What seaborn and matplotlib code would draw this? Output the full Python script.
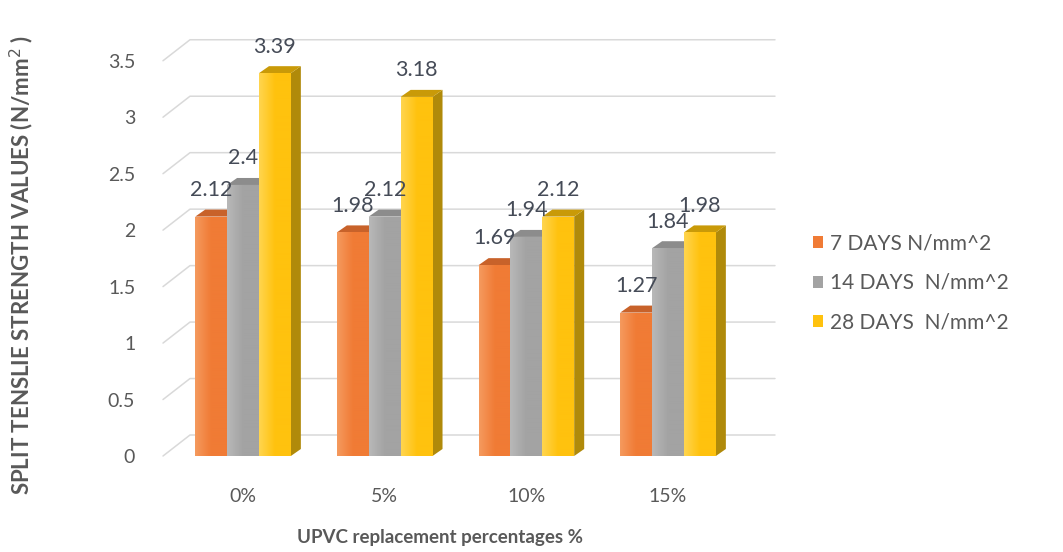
import numpy as np
import pandas as pd
import seaborn as sns
import matplotlib.pyplot as plt
from matplotlib.patches import Polygon, Patch
from matplotlib.colors import LinearSegmentedColormap
from matplotlib.transforms import blended_transform_factory

# ---------------- data ----------------
categories = ["0%", "5%", "10%", "15%"]
series_names = ["7 DAYS N/mm^2", "14 DAYS  N/mm^2", "28 DAYS  N/mm^2"]
days7 = [2.12, 1.98, 1.69, 1.27]
days14 = [2.4, 2.12, 1.94, 1.84]
days28 = [3.39, 3.18, 2.12, 1.98]
yticks = [0, 0.5, 1, 1.5, 2, 2.5, 3, 3.5]

front_colors = ["#F07B35", "#A3A3A3", "#FFC20E"]
light_colors = ["#F59A5E", "#B8B8B8", "#FFD54F"]
side_colors = ["#B2561C", "#7A7A7A", "#B08A0A"]
top_colors = ["#C8622A", "#8C8C8C", "#C99A08"]

rows = []
for name, vals in zip(series_names, [days7, days14, days28]):
    for c, v in zip(categories, vals):
        rows.append({"pct": c, "value": v, "series": name})
df = pd.DataFrame(rows)

# ---------------- style ----------------
sns.set_theme(style="white")
plt.rcParams["font.family"] = ["Lato", "DejaVu Sans"]

W, H = 1063, 552
fig = plt.figure(figsize=(W / 100, H / 100), dpi=100)
ax_left, ax_right, ax_bottom, ax_top = 163, 775, 456, 28
ymax = 3.79
ax = fig.add_axes([ax_left / W, 1 - ax_bottom / H,
                   (ax_right - ax_left) / W, (ax_bottom - ax_top) / H])

sns.barplot(data=df, x="pct", y="value", hue="series",
            palette=front_colors, width=0.675, saturation=1,
            linewidth=0, ax=ax, legend=False, zorder=3)

xmin, xmax = -0.565, 3.755
ax.set_xlim(xmin, xmax)
ax.set_ylim(0, ymax)

# ---------------- pseudo-3D faces + gradient ----------------
px_per_x = (ax_right - ax_left) / (xmax - xmin)
px_per_y = (ax_bottom - ax_top) / ymax
dx = 10 / px_per_x
dy = 7 / px_per_y
for i, cont in enumerate(ax.containers):
    cmap = LinearSegmentedColormap.from_list(
        f"g{i}", [light_colors[i], front_colors[i], front_colors[i]])
    grad = np.linspace(0, 1, 64).reshape(1, -1)
    for p in cont.patches:
        x0, y0 = p.get_x(), p.get_y()
        w, h = p.get_width(), p.get_height()
        im = ax.imshow(grad, cmap=cmap, aspect="auto",
                       extent=[x0, x0 + w, y0, y0 + h], zorder=3.05,
                       interpolation="bilinear")
        im.set_clip_path(p)
        side = Polygon([(x0 + w, y0), (x0 + w + dx, y0 + dy),
                        (x0 + w + dx, y0 + h + dy), (x0 + w, y0 + h)],
                       closed=True, facecolor=side_colors[i], edgecolor="none",
                       zorder=2.9)
        top = Polygon([(x0, y0 + h), (x0 + dx, y0 + h + dy),
                       (x0 + w + dx, y0 + h + dy), (x0 + w, y0 + h)],
                      closed=True, facecolor=top_colors[i], edgecolor="none",
                      zorder=2.9)
        ax.add_patch(side)
        ax.add_patch(top)
    ax.bar_label(cont, fmt="%g", padding=12, fontsize=15.5, color="#454B57",
                 zorder=5)

ax.set_xlim(xmin, xmax)
ax.set_ylim(0, ymax)

# ---------------- back-wall gridlines ----------------
blend = blended_transform_factory(ax.transAxes, ax.transData)
gx = 27 / (ax_right - ax_left)
gy = 21 / px_per_y
for v in yticks:
    ax.plot([0, gx, 1], [v, v + gy, v + gy], transform=blend,
            color="#D9D9D9", lw=1.1, zorder=1, clip_on=False)

# ---------------- axes cosmetics ----------------
for s in ax.spines.values():
    s.set_visible(False)
ax.set_yticks(yticks)
ax.set_yticklabels([f"{t:g}" for t in yticks])
ax.tick_params(axis="y", length=0, pad=20, labelsize=14, labelcolor="#595959")
ax.tick_params(axis="x", length=0, pad=23, labelsize=14, labelcolor="#595959")
ax.set_xlabel("")
ax.set_ylabel("")
ax.grid(False)

fig.text(22 / W, 1 - 265 / H, "SPLIT TENSLIE STRENGTH VALUES (N/mm$^2$ )",
         rotation=90, ha="center", va="center", fontsize=16,
         fontweight="bold", color="#595959")
fig.text(440 / W, 1 - 537 / H, "UPVC replacement percentages %",
         ha="center", va="center", fontsize=13.5, fontweight="bold",
         color="#595959")

handles = [Patch(facecolor=c, edgecolor="none") for c in front_colors]
fig.legend(handles, series_names, loc="center left",
           bbox_to_anchor=(794 / W, 1 - 283 / H), frameon=False,
           handlelength=0.5, handleheight=0.5, handletextpad=0.35,
           labelspacing=0.95, fontsize=15, labelcolor="#595959")

fig.savefig("out.png", dpi=100)
